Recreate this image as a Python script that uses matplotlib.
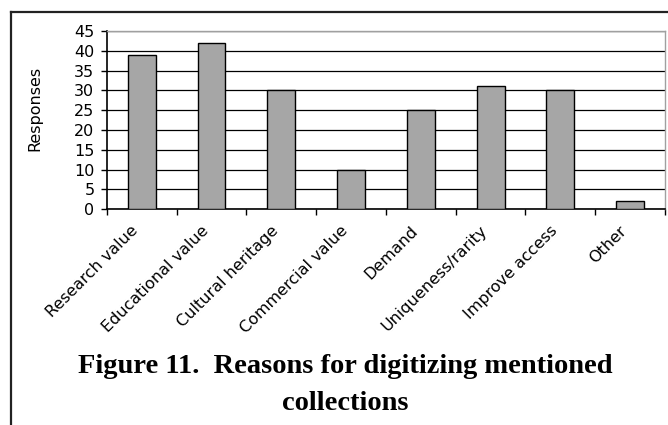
import matplotlib
matplotlib.use('Agg')
import matplotlib.pyplot as plt
import matplotlib.transforms as mtransforms
from matplotlib.lines import Line2D
import numpy as np

reasons = ['Research value', 'Educational value', 'Cultural heritage',
           'Commercial value', 'Demand', 'Uniqueness/rarity',
           'Improve access', 'Other']
responses = [39, 42, 30, 10, 25, 31, 30, 2]
yticks = list(range(0, 50, 5))

fig = plt.figure(figsize=(6.68, 4.25), dpi=100)
ax = fig.add_axes([0.160, 0.508, 0.8355, 0.419])

x = np.arange(len(reasons))
ax.bar(x, responses, width=0.4, color='#a6a6a6', edgecolor='black',
       linewidth=1.0, zorder=3)

ax.set_xlim(-0.5, len(reasons) - 0.5)
ax.set_ylim(0, 45)
ax.set_yticks(yticks)
ax.tick_params(axis='y', direction='out', length=4, width=1,
               labelsize=11.5, pad=5)
ax.yaxis.grid(True, color='black', linewidth=0.9, zorder=0)
ax.set_axisbelow(True)

# category labels at centres, tick marks between categories
ax.set_xticks(x)
ax.set_xticklabels(reasons, rotation=45, ha='right', rotation_mode='anchor',
                   fontsize=11.5)
ax.tick_params(axis='x', which='major', length=0, pad=10)
shift = mtransforms.ScaledTranslation(-11 / 100, 0, fig.dpi_scale_trans)
for lbl in ax.get_xticklabels():
    lbl.set_transform(lbl.get_transform() + shift)
ax.set_xticks(np.arange(-0.5, len(reasons), 1.0), minor=True)
ax.tick_params(axis='x', which='minor', direction='out', length=4, width=1)

for side in ['left', 'bottom']:
    ax.spines[side].set_color('black')
    ax.spines[side].set_linewidth(1.2)
for side in ['top', 'right']:
    ax.spines[side].set_color('#a0a0a0')
    ax.spines[side].set_linewidth(1.0)

fig.text(35 / 668, 1 - 108 / 425, 'Responses', rotation=90,
         ha='center', va='center', fontsize=11.5)

# surrounding frame
fig.add_artist(Line2D([11 / 668, 1.0], [1 - 12 / 425, 1 - 12 / 425],
                      color='#222222', linewidth=1.6, transform=fig.transFigure))
fig.add_artist(Line2D([11 / 668, 11 / 668], [1 - 12 / 425, 0.0],
                      color='#222222', linewidth=1.6, transform=fig.transFigure))

fig.text(345 / 668, 1 - 373 / 425, 'Figure 11.  Reasons for digitizing mentioned',
         ha='center', va='baseline', fontsize=20.5, fontweight='bold',
         family='Liberation Serif')
fig.text(345 / 668, 1 - 410 / 425, 'collections',
         ha='center', va='baseline', fontsize=20.5, fontweight='bold',
         family='Liberation Serif')

fig.savefig('out.png', dpi=100)
